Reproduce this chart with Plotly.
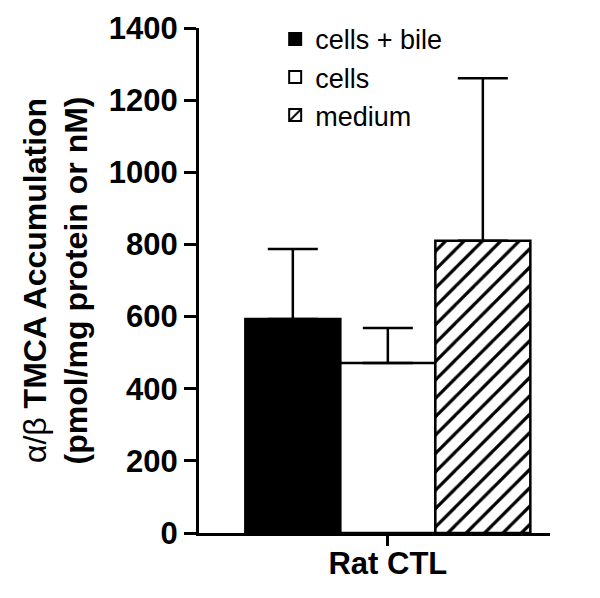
import plotly.graph_objects as go

categories = ["Rat CTL"]
series_names = ["cells + bile", "cells", "medium"]
means = [593, 471, 810]
errors_up = [194, 97, 451]
y_ticks = [0, 200, 400, 600, 800, 1000, 1200, 1400]

fills = ["black", "white", "white"]
patterns = ["", "", "/"]

fig = go.Figure()
for name, m, e, fc, pat in zip(series_names, means, errors_up, fills, patterns):
    fig.add_trace(
        go.Bar(
            x=categories,
            y=[m],
            name=name,
            marker=dict(
                color=fc,
                line=dict(color="black", width=2.5),
                pattern=dict(shape=pat, fgcolor="black", bgcolor="white",
                             fgopacity=1, size=13, solidity=0.25),
            ),
            error_y=dict(
                type="data", symmetric=False, array=[e], arrayminus=[0],
                color="black", thickness=2.5, width=25,
            ),
        )
    )

font_family = "Liberation Sans, Arial, sans-serif"
fig.update_layout(
    width=600,
    height=598,
    margin=dict(l=191, r=58, t=20, b=73, autoexpand=False),
    paper_bgcolor="white",
    plot_bgcolor="white",
    barmode="group",
    bargap=0.188,
    bargroupgap=0,
    font=dict(family=font_family, color="black"),
    showlegend=True,
    legend=dict(
        x=0.217, y=1.026, xanchor="left", yanchor="top",
        font=dict(size=27, family=font_family),
        bgcolor="rgba(0,0,0,0)",
        itemsizing="constant",
        tracegroupgap=0,
    ),
)
fig.update_xaxes(
    range=[-0.538, 0.462],
    automargin=False,
    showline=True, linecolor="black", linewidth=3,
    ticks="outside", ticklen=10, tickwidth=2.5, tickcolor="black",
    ticklabelstandoff=-9,
    tickfont=dict(size=31, family=font_family, weight="bold"),
    showgrid=False, zeroline=False,
)
fig.update_yaxes(
    range=[0, 1400],
    automargin=False,
    tickvals=y_ticks,
    showline=True, linecolor="black", linewidth=3,
    ticks="outside", ticklen=12, tickwidth=2.5, tickcolor="black",
    tickfont=dict(size=31, family=font_family, weight="bold"),
    showgrid=False, zeroline=False,
    title=dict(
        text="<span style='font-weight:normal'>α/β</span> TMCA Accumulation<br>(pmol/mg protein or nM)",
        font=dict(size=32, family=font_family, weight="bold"),
        standoff=12,
    ),
)

fig.write_html("out.html")
